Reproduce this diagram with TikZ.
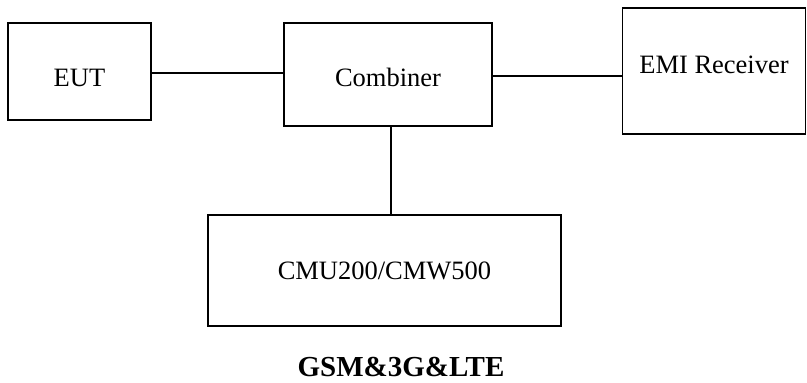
\documentclass[tikz,border=0pt]{standalone}
\usepackage{fontspec}
\setmainfont{Liberation Serif}
\usepackage{tikz}
\usetikzlibrary{positioning,calc}
\definecolor{cLine}{RGB}{0,0,0}

\begin{document}
\begin{tikzpicture}[x=1pt,y=-1pt,
    unit/.style={draw=cLine,line width=1.5pt,inner sep=0pt,
      font=\fontsize{26.5}{31}\selectfont,text height=17.5pt,text depth=0pt},
    wire/.style={cLine,line width=2.9pt}]
  \useasboundingbox[fill=white] (0,0) rectangle (807,383);
  % boxes
  \node[unit,minimum width=143pt,minimum height=97pt,text height=30pt] (eut) at (79.5,71.5) {EUT};
  \node[unit,minimum width=208pt,minimum height=103pt,text height=24pt] (comb) at (388,74.5) {Combiner};
  \node[unit,minimum width=183pt,minimum height=126pt,text depth=12pt] (emi) at (714,71) {EMI Receiver};
  \node[unit,minimum width=353pt,minimum height=111pt] (cmu) at (384.5,270.5) {CMU200/CMW500};
  \node[inner sep=0pt,text height=19pt,text depth=0pt,
        font=\fontsize{29}{33}\selectfont\bfseries] (band) at (401,366.5) {GSM\&3G\&LTE};
  % cables
  \draw[wire] ([yshift=1.5pt]comb.west) -- ([yshift=1.5pt]comb.west -| eut.east);
  \draw[wire] ([yshift=-1.5pt]comb.east) -- ([yshift=-1.5pt]comb.east -| emi.west);
  \draw[wire] ([xshift=3pt]comb.south) -- ([xshift=3pt]comb.south |- cmu.north);
\end{tikzpicture}
\end{document}
